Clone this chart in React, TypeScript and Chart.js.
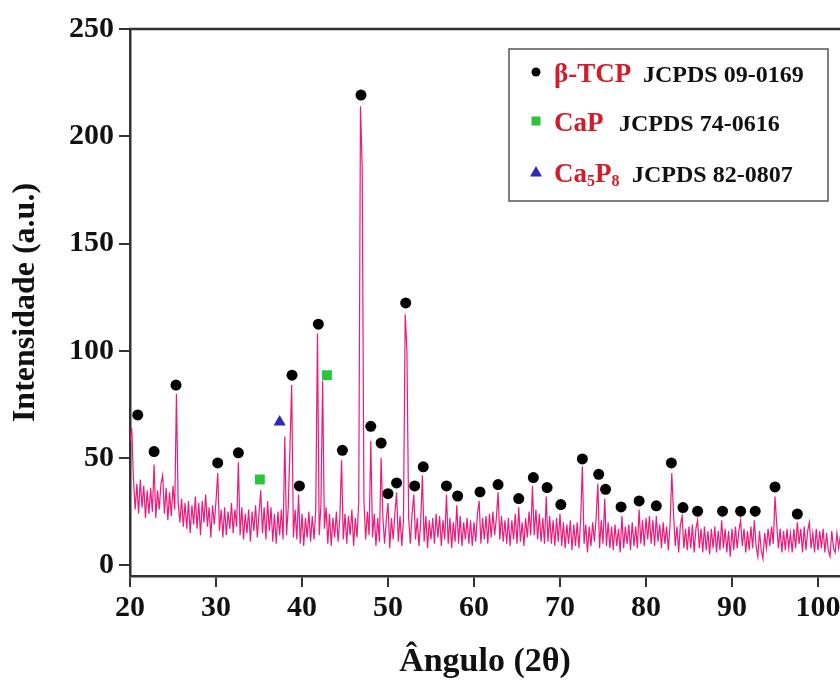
import React, { useEffect, useRef } from 'react';
import { Chart, registerables } from 'chart.js';

Chart.register(...registerables);

// Diffractogram: intensity sampled every 0.2° starting at 20°
const angleStart = 20;
const angleStep = 0.2;
const intensity = [
  58, 64, 40, 26, 38,
  24, 40, 27, 37, 22,
  35, 24, 36, 25, 47,
  22, 35, 26, 38, 42,
  24, 36, 21, 34, 23,
  37, 26, 80, 29, 20,
  31, 18, 29, 17, 30,
  15, 28, 19, 32, 17,
  29, 14, 30, 20, 33,
  18, 27, 13, 28, 19,
  30, 43, 16, 26, 13,
  27, 14, 25, 17, 29,
  15, 26, 18, 48, 14,
  27, 12, 24, 15, 26,
  11, 25, 16, 28, 13,
  24, 35, 15, 27, 12,
  30, 16, 27, 11, 24,
  10, 25, 14, 26, 12,
  60, 14, 27, 55, 84,
  13, 26, 12, 33, 10,
  24, 9, 22, 13, 25,
  11, 23, 12, 26, 108,
  14, 28, 86, 17, 27,
  10, 24, 9, 22, 13,
  25, 11, 22, 49, 12,
  24, 10, 23, 14, 26,
  9, 22, 13, 30, 214,
  185, 30, 12, 25, 14,
  58, 13, 24, 9, 22,
  11, 50, 23, 10, 21,
  29, 8, 22, 12, 24,
  34, 11, 23, 9, 21,
  117, 100, 22, 10, 24,
  33, 12, 22, 9, 20,
  42, 11, 23, 8, 21,
  12, 22, 10, 24, 13,
  23, 9, 21, 12, 33,
  10, 22, 8, 20, 11,
  28, 10, 23, 9, 20,
  12, 22, 10, 21, 9,
  20, 11, 24, 30, 10,
  22, 12, 23, 10, 24,
  13, 25, 14, 22, 34,
  12, 23, 11, 21, 10,
  22, 9, 21, 12, 24,
  10, 27, 11, 20, 9,
  22, 13, 25, 14, 37,
  14, 26, 12, 24, 11,
  22, 10, 32, 11, 23,
  10, 21, 9, 22, 11,
  24, 9, 20, 8, 19,
  10, 21, 7, 19, 9,
  20, 8, 21, 46, 10,
  19, 6, 18, 9, 20,
  11, 22, 38, 8, 21,
  10, 31, 9, 20, 8,
  18, 7, 19, 9, 17,
  6, 23, 8, 18, 10,
  19, 7, 20, 9, 18,
  8, 26, 10, 21, 9,
  22, 12, 23, 10, 21,
  9, 23, 11, 19, 8,
  20, 10, 18, 7, 19,
  43, 24, 9, 18, 6,
  19, 23, 8, 17, 7,
  18, 8, 19, 6, 17,
  21, 8, 17, 6, 18,
  7, 16, 5, 17, 8,
  18, 6, 16, 7, 21,
  8, 17, 6, 16, 4,
  17, 7, 18, 8, 16,
  21, 9, 17, 6, 16,
  7, 18, 8, 21, 9,
  4, 16, 7, 3, 15,
  8, 17, 9, 18, 10,
  32, 19, 8, 17, 6,
  16, 7, 17, 8, 15,
  6, 17, 8, 20, 10,
  17, 6, 18, 7, 16,
  20, 8, 15, 6, 17,
  7, 16, 8, 17, 6,
  15, 7, 4, 16, 8,
  6, 15, 8, 14,
];

// Phase markers (β-TCP)
const tcpAngles = [20.9, 22.8, 25.35, 30.2, 32.6, 38.84, 39.7, 41.9, 44.7, 46.86, 48.0, 49.2, 50.0, 51.0, 52.06, 53.1, 54.1, 56.8, 58.1, 60.7, 62.8, 65.2, 66.9, 68.5, 70.1, 72.6, 74.5, 75.3, 77.1, 79.2, 81.2, 82.95, 84.3, 86.0, 88.9, 91.0, 92.7, 95.0, 97.6];
const tcpHeights = [70.1, 53, 84, 47.7, 52.4, 88.6, 37, 112.4, 53.6, 219.2, 64.8, 57, 33.4, 38.4, 122.3, 37, 45.9, 37, 32.3, 34.2, 37.6, 31.1, 40.9, 36.2, 28.3, 49.6, 42.4, 35.4, 27.2, 30, 27.7, 47.7, 26.9, 25.2, 25.2, 25.2, 25.2, 36.5, 23.9];
// CaP markers
const capAngles = [35.1, 42.9];
const capHeights = [40, 88.6];
// Ca5P8 markers
const ca5p8Angles = [37.4];
const ca5p8Heights = [66.8];

const legendPhases = ['β-TCP', 'CaP', 'Ca5P8'];
const legendCards = ['JCPDS 09-0169', 'JCPDS 74-0616', 'JCPDS 82-0807'];

const xMin = 20;
const xMax = 102.56;
const xStep = 10;
const yMin = -5;
const yMax = 250;
const yStep = 50;

const LINE = '#ec1a7a';
const RED = '#d21c2a';
const GREEN = '#2bc43c';
const BLUE = '#2a2ab4';
const SERIF = '"Liberation Serif", "Times New Roman", serif';

const decorPlugin = {
  id: 'decor',
  afterDraw(chart: any) {
    const { ctx, chartArea } = chart;
    ctx.save();
    // top frame line
    ctx.strokeStyle = '#333';
    ctx.lineWidth = 2.5;
    ctx.beginPath();
    ctx.moveTo(chartArea.left - 1, chartArea.top);
    ctx.lineTo(chart.width, chartArea.top);
    ctx.stroke();

    // legend box
    const bx = 509, by = 49, bw = 319, bh = 152;
    ctx.fillStyle = '#fff';
    ctx.fillRect(bx, by, bw, bh);
    ctx.strokeStyle = '#555';
    ctx.lineWidth = 1.5;
    ctx.strokeRect(bx, by, bw, bh);

    const rowsY = [72, 121, 172];
    const markX = 536;
    ctx.fillStyle = '#000';
    ctx.beginPath();
    ctx.arc(markX, rowsY[0], 4.5, 0, Math.PI * 2);
    ctx.fill();
    ctx.fillStyle = GREEN;
    ctx.fillRect(markX - 4.5, rowsY[1] - 4.5, 9, 9);
    ctx.fillStyle = BLUE;
    ctx.beginPath();
    ctx.moveTo(markX, rowsY[2] - 6);
    ctx.lineTo(markX + 6, rowsY[2] + 4.5);
    ctx.lineTo(markX - 6, rowsY[2] + 4.5);
    ctx.closePath();
    ctx.fill();

    ctx.textBaseline = 'alphabetic';
    ctx.textAlign = 'left';
    const big = `bold 27px ${SERIF}`;
    const small = `bold 16px ${SERIF}`;
    const card = `bold 24px ${SERIF}`;
    const cardX = [643, 619, 632];
    legendPhases.forEach((name, i) => {
      const base = rowsY[i] + 10;
      ctx.fillStyle = RED;
      let x = 554;
      if (name === 'Ca5P8') {
        const parts: [string, boolean][] = [['Ca', false], ['5', true], ['P', false], ['8', true]];
        parts.forEach(([t, sub]) => {
          ctx.font = sub ? small : big;
          ctx.fillText(t, x, sub ? base + 4 : base);
          x += ctx.measureText(t).width;
        });
      } else {
        ctx.font = big;
        ctx.fillText(name, x, base);
      }
      ctx.fillStyle = '#111';
      ctx.font = card;
      ctx.fillText(legendCards[i], cardX[i], base);
    });
    ctx.restore();
  },
};

export default function App() {
  const canvasRef = useRef<HTMLCanvasElement | null>(null);

  useEffect(() => {
    document.body.style.margin = '0';
    const canvas = canvasRef.current;
    if (!canvas) return;

    const linePoints = intensity.map((v, i) => ({ x: angleStart + i * angleStep, y: v }));
    const toPts = (xs: number[], ys: number[]) => xs.map((x, i) => ({ x, y: ys[i] }));

    const tickFont = { family: SERIF, size: 30, weight: 'bold' as const };

    const chart = new Chart(canvas, {
      type: 'line',
      data: {
        datasets: [
          {
            label: 'β-TCP',
            type: 'scatter',
            data: toPts(tcpAngles, tcpHeights),
            pointStyle: 'circle',
            pointRadius: 5.5,
            backgroundColor: '#000',
            borderColor: '#000',
            borderWidth: 0,
            showLine: false,
            order: 1,
          } as any,
          {
            label: 'CaP',
            type: 'scatter',
            data: toPts(capAngles, capHeights),
            pointStyle: 'rect',
            pointRadius: 7,
            backgroundColor: GREEN,
            borderColor: GREEN,
            borderWidth: 0,
            showLine: false,
            order: 1,
          } as any,
          {
            label: 'Ca5P8',
            type: 'scatter',
            data: toPts(ca5p8Angles, ca5p8Heights),
            pointStyle: 'triangle',
            pointRadius: 7,
            backgroundColor: BLUE,
            borderColor: BLUE,
            borderWidth: 0,
            showLine: false,
            order: 1,
          } as any,
          {
            label: 'XRD',
            data: linePoints,
            borderColor: LINE,
            borderWidth: 1.2,
            pointRadius: 0,
            tension: 0,
            fill: false,
            order: 2,
          },
        ],
      },
      options: {
        responsive: false,
        animation: false,
        devicePixelRatio: 1,
        layout: { autoPadding: false, padding: { top: 29, right: 0, left: 0, bottom: 0 } },
        plugins: {
          legend: { display: false },
          tooltip: { enabled: false },
        },
        scales: {
          x: {
            type: 'linear',
            min: xMin,
            max: xMax,
            afterFit: (s: any) => { s.height = 107; s.paddingRight = 0; s.paddingLeft = 0; },
            ticks: {
              stepSize: xStep,
              includeBounds: false,
              autoSkip: false,
              maxRotation: 0,
              color: '#111',
              font: tickFont,
              padding: 3,
            },
            grid: { display: true, drawOnChartArea: false, drawTicks: true, tickLength: 11, color: '#333', lineWidth: 2 },
            border: { display: true, color: '#333', width: 2.5 },
            title: {
              display: true,
              text: 'Ângulo (2θ)',
              color: '#111',
              font: { family: SERIF, size: 34, weight: 'bold' },
              padding: { top: 0, bottom: 0 },
            },
          },
          y: {
            type: 'linear',
            min: yMin,
            max: yMax,
            afterFit: (s: any) => { s.width = 130; s.paddingTop = 0; s.paddingBottom = 0; },
            ticks: {
              stepSize: yStep,
              includeBounds: false,
              color: '#111',
              font: tickFont,
              padding: 5,
            },
            grid: { display: true, drawOnChartArea: false, drawTicks: true, tickLength: 11, color: '#333', lineWidth: 2 },
            border: { display: true, color: '#333', width: 2.5 },
            title: {
              display: true,
              text: 'Intensidade (a.u.)',
              color: '#111',
              font: { family: SERIF, size: 32, weight: 'bold' },
              padding: { top: 7, bottom: 0 },
            },
          },
        },
      },
      plugins: [decorPlugin],
    });

    return () => chart.destroy();
  }, []);

  return (
    <div style={{ width: 840, height: 683, position: 'relative' }}>
      <canvas ref={canvasRef} width={840} height={683} style={{ display: 'block' }} />
    </div>
  );
}
